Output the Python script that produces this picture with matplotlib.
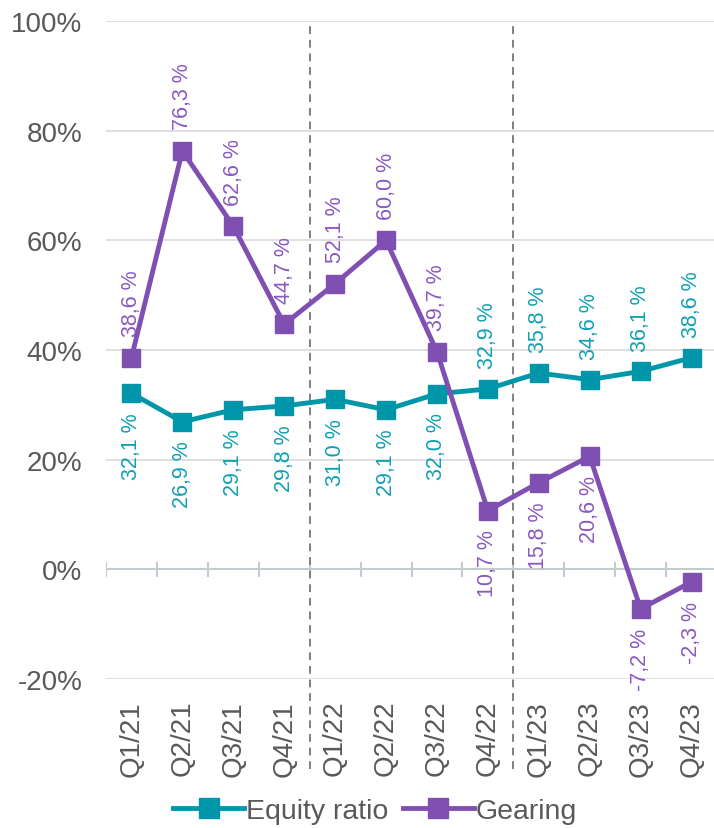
import matplotlib
matplotlib.use("Agg")
import matplotlib.pyplot as plt
import matplotlib.transforms as mtransforms

plt.rcParams['font.family'] = ['Liberation Sans', 'DejaVu Sans']

quarters = ["Q1/21", "Q2/21", "Q3/21", "Q4/21", "Q1/22", "Q2/22", "Q3/22", "Q4/22",
            "Q1/23", "Q2/23", "Q3/23", "Q4/23"]
equity_ratio = [32.1, 26.9, 29.1, 29.8, 31.0, 29.1, 32.0, 32.9, 35.8, 34.6, 36.1, 38.6]
gearing = [38.6, 76.3, 62.6, 44.7, 52.1, 60.0, 39.7, 10.7, 15.8, 20.6, -7.2, -2.3]
# label placement: +1 above, -1 below
equity_pos = [-1, -1, -1, -1, -1, -1, -1, 1, 1, 1, 1, 1]
gearing_pos = [1, 1, 1, 1, 1, 1, 1, -1, -1, -1, -1, -1]
yticks = [-20, 0, 20, 40, 60, 80, 100]

teal = "#0096AA"
purple = "#7F4FB1"
teal_txt = "#0FA0B4"
purple_txt = "#8A58C2"
grey = "#595959"

fig = plt.figure(figsize=(7.14, 8.29), dpi=100)
ax = fig.add_axes([106/714, 1-680/829, (717-106)/714, (680-22)/829])

x = list(range(len(quarters)))
ax.set_xlim(-0.5, len(quarters)-0.5)
ax.set_ylim(-20, 100)

for y in yticks:
    if y != 0:
        ax.axhline(y, color="#D9D9D9", lw=1.2, zorder=0)
ax.axhline(0, color="#C3CBCF", lw=1.5, zorder=1)
ax.vlines([i - 0.5 for i in range(len(quarters)+1)], -1.4, 1.4, color="#C3CBCF", lw=1.5, zorder=1)

trans = mtransforms.blended_transform_factory(ax.transData, ax.transAxes)
for xd in [3.5, 7.5]:
    ax.plot([xd, xd], [-0.137, 1.0], transform=trans, clip_on=False,
            color="#7F7F7F", lw=1.4, ls=(0, (4, 3)), zorder=1)

ax.plot(x, equity_ratio, color=teal, lw=3.5, marker="s", ms=12.5, label="Equity ratio", zorder=3)
ax.plot(x, gearing, color=purple, lw=3.5, marker="s", ms=12.5, label="Gearing", zorder=3)

def fmt(v):
    return f"{v:.1f}".replace(".", ",") + " %"

for xi, v, p in zip(x, equity_ratio, equity_pos):
    ax.annotate(fmt(v), (xi, v), xytext=(0, (15 if p > 0 else 13.5)*p), textcoords="offset points",
                rotation=90, ha="center", va="bottom" if p > 0 else "top",
                color=teal_txt, fontsize=15.5, zorder=4)
for xi, v, p in zip(x, gearing, gearing_pos):
    ax.annotate(fmt(v), (xi, v), xytext=(0, (15.5 if p > 0 else 13.5)*p), textcoords="offset points",
                rotation=90, ha="center", va="bottom" if p > 0 else "top",
                color=purple_txt, fontsize=15.5, zorder=4)

ax.set_yticks(yticks)
ax.set_yticklabels([f"{t}%" for t in yticks], fontsize=20, color=grey)
ax.set_xticks(x)
ax.set_xticklabels(quarters, rotation=90, fontsize=20, color=grey)
ax.tick_params(axis="both", length=0)
ax.tick_params(axis="x", pad=15)
ax.tick_params(axis="y", pad=17)
for s in ax.spines.values():
    s.set_visible(False)

fig.legend(loc="center", bbox_to_anchor=(0.525, 0.021), ncol=2, frameon=False,
           fontsize=20.5, handlelength=2.5, handletextpad=0.05, columnspacing=0.5,
           labelcolor=grey, markerscale=1.1)

fig.savefig("out.png", dpi=100)
